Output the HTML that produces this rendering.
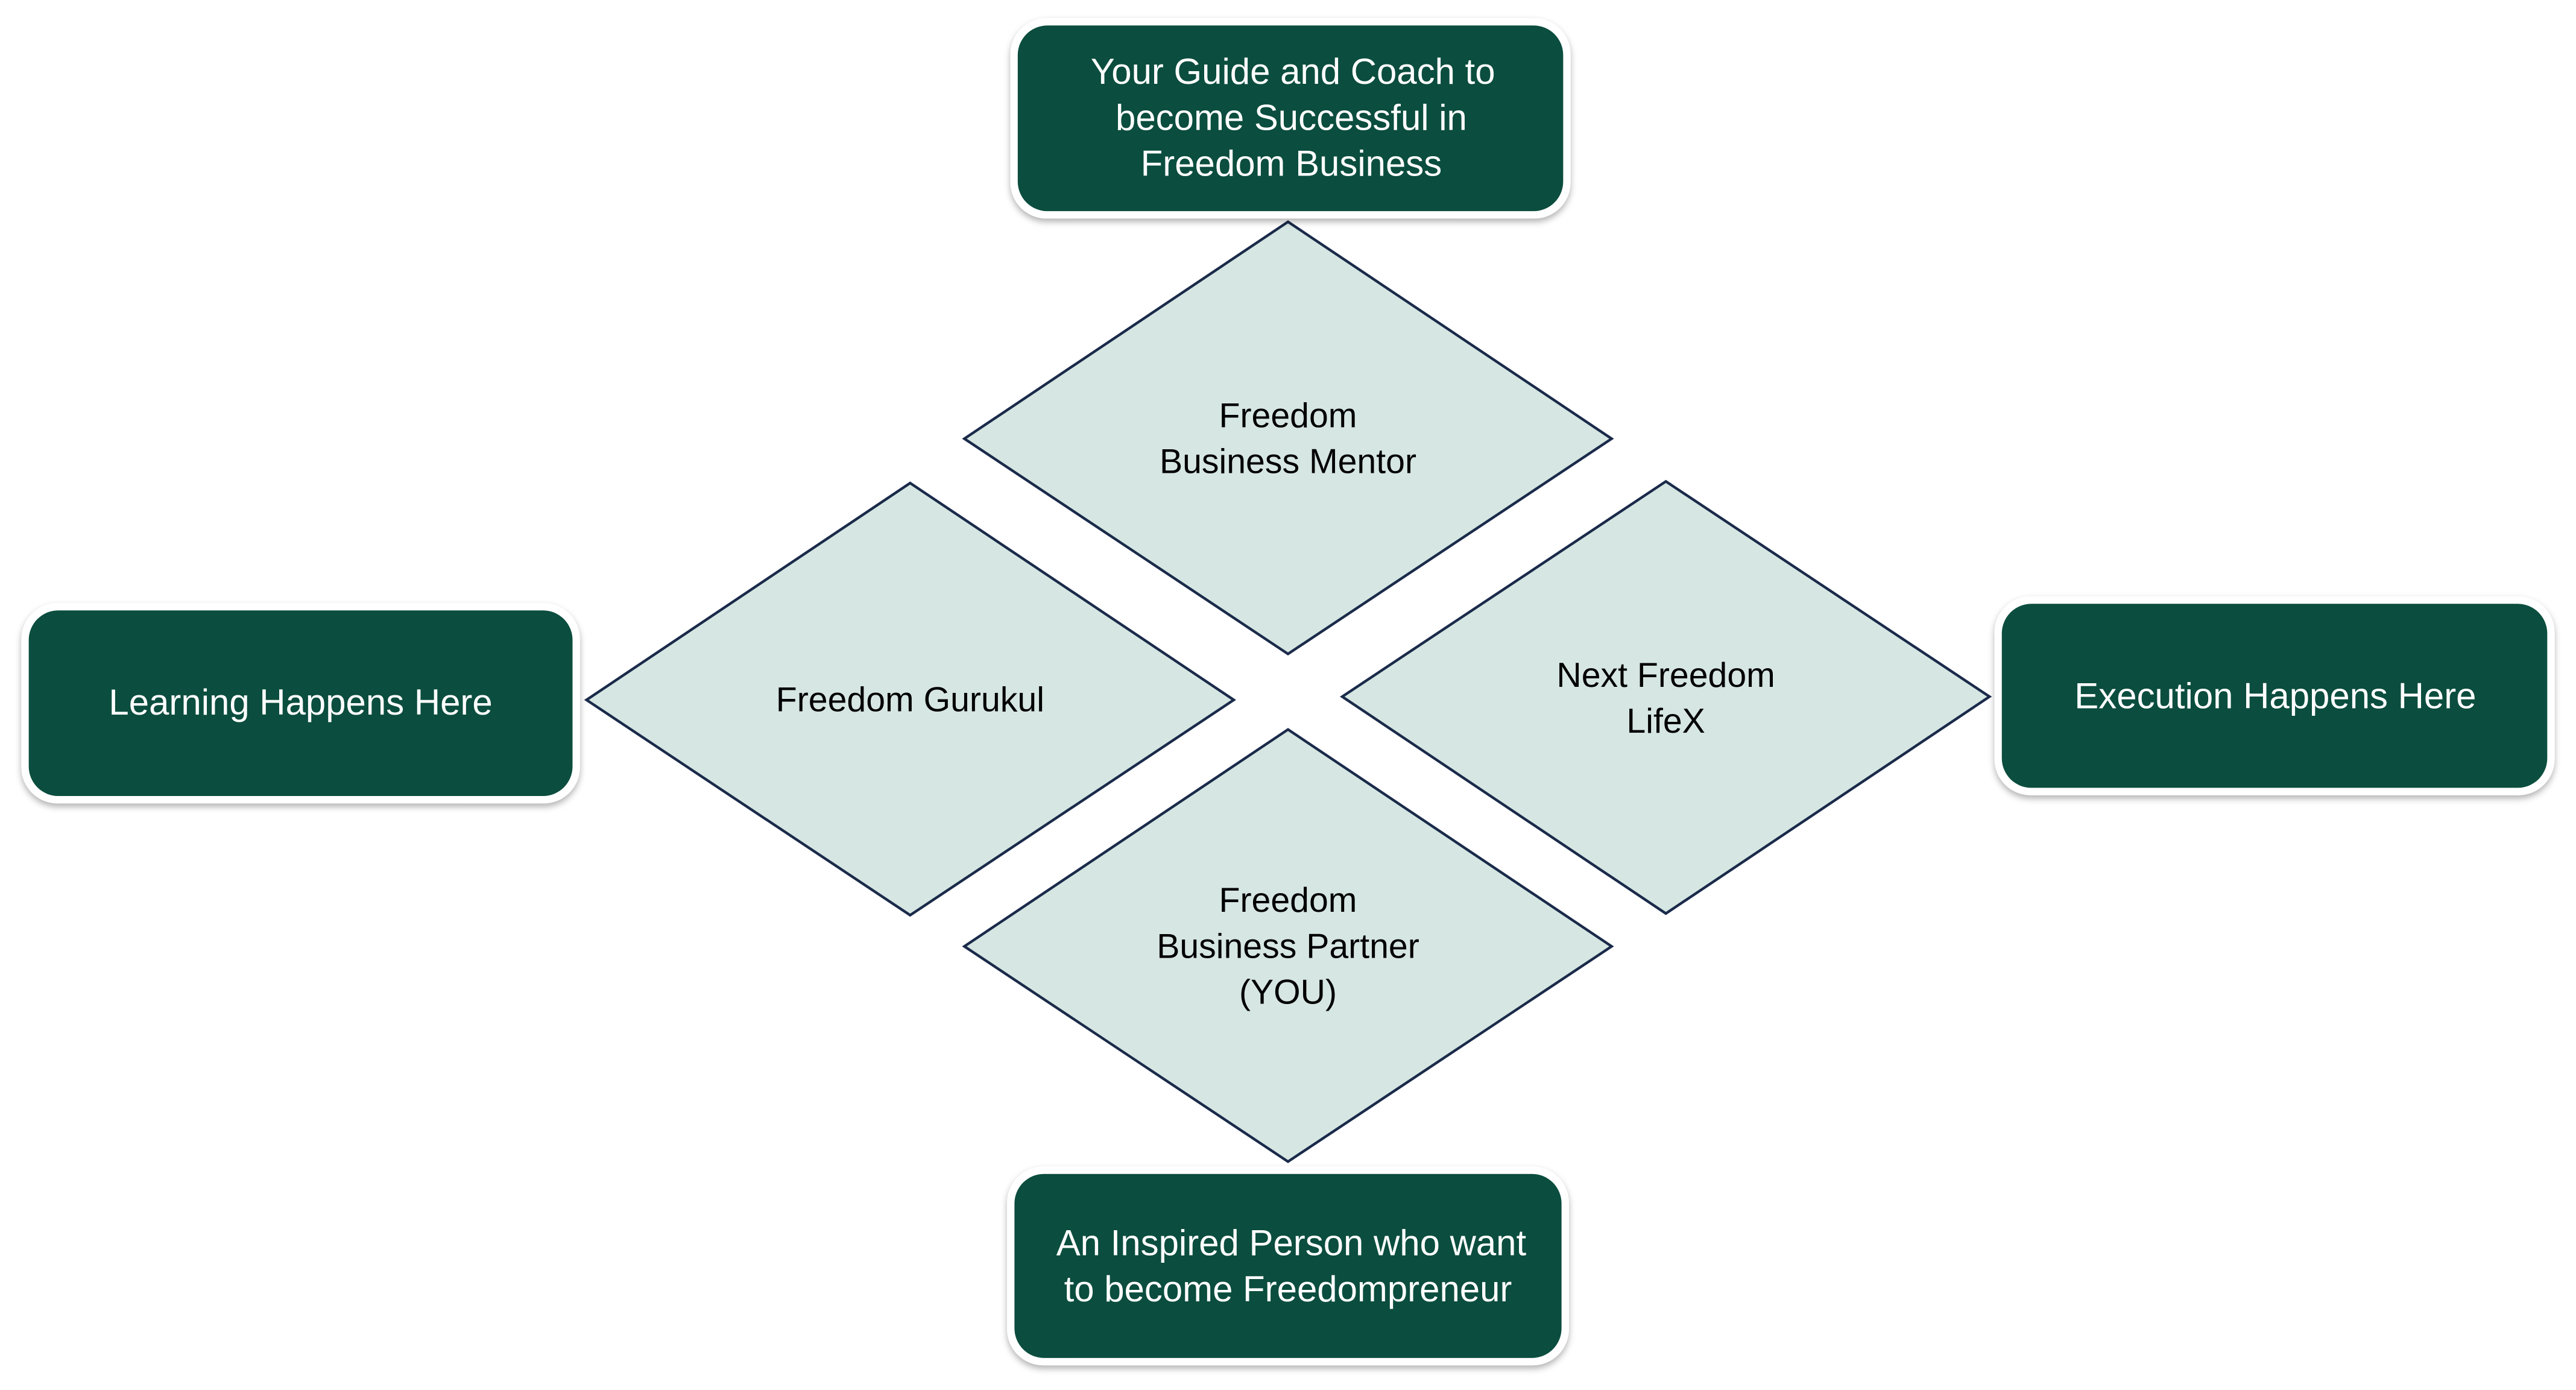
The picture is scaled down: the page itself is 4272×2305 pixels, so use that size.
<!DOCTYPE html>
<html><head><meta charset="utf-8"><style>
html,body{margin:0;padding:0;background:#fff;}
svg{display:block;}
</style></head><body>
<svg width="4272" height="2305" viewBox="0 0 1568 846" xmlns="http://www.w3.org/2000/svg">
<defs>
<filter id="sh" x="-10%" y="-10%" width="120%" height="130%">
<feDropShadow dx="0" dy="2" stdDeviation="2" flood-color="#000" flood-opacity="0.3"/>
</filter>
</defs>
<g font-family="'Liberation Sans', sans-serif" font-size="21" text-anchor="middle">
<g fill="#d6e6e2" stroke="#1a2a4a" stroke-width="1.6">
<polygon points="784,135 981,267 784,398 587,267"/>
<polygon points="554,294 751,426 554,557 357,426"/>
<polygon points="1014,293 1211,424 1014,556 817,424"/>
<polygon points="784,444 981,576 784,707 587,576"/>
</g>
<g fill="#000">
<text x="784" y="260">Freedom</text>
<text x="784" y="288">Business Mentor</text>
<text x="554" y="433">Freedom Gurukul</text>
<text x="1014" y="418">Next Freedom</text>
<text x="1014" y="446">LifeX</text>
<text x="784" y="555">Freedom</text>
<text x="784" y="583">Business Partner</text>
<text x="784" y="611">(YOU)</text>
</g>
<g filter="url(#sh)">
<rect x="615" y="11" width="341" height="122" rx="22" fill="#fff"/>
<rect x="13" y="367" width="340" height="122" rx="22" fill="#fff"/>
<rect x="1214" y="363" width="341" height="121" rx="22" fill="#fff"/>
<rect x="613" y="710" width="342" height="121" rx="22" fill="#fff"/>
</g>
<g fill="#0b4d3e">
<rect x="619.5" y="15.5" width="332" height="113" rx="18"/>
<rect x="17.5" y="371.5" width="331" height="113" rx="18"/>
<rect x="1218.5" y="367.5" width="332" height="112" rx="18"/>
<rect x="617.5" y="714.5" width="333" height="112" rx="18"/>
</g>
<g fill="#fff" font-size="22">
<text x="787" y="51">Your Guide and Coach to</text>
<text x="786" y="79">become Successful in</text>
<text x="786" y="107">Freedom Business</text>
<text x="183" y="435">Learning Happens Here</text>
<text x="1385" y="431">Execution Happens Here</text>
<text x="786" y="764">An Inspired Person who want</text>
<text x="784" y="792">to become Freedompreneur</text>
</g>
</g>
</svg>
</body></html>
